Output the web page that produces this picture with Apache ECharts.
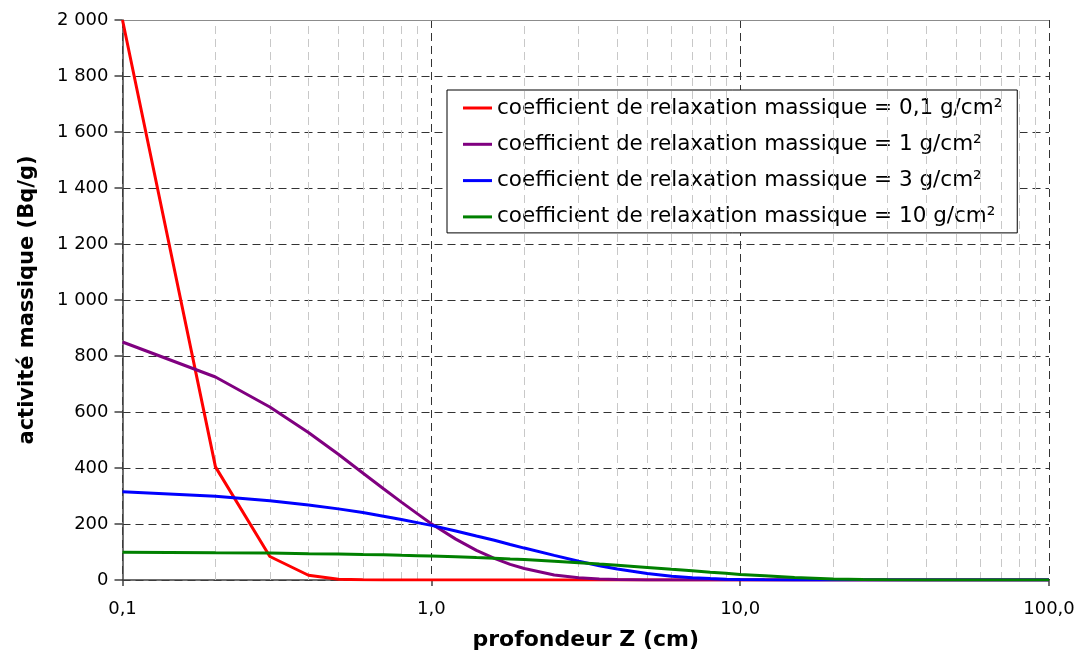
<!DOCTYPE html>
<html>
<head>
<meta charset="utf-8">
<script src="https://cdn.jsdelivr.net/npm/echarts@6/dist/echarts.min.js"></script>
<style>
  html, body { margin: 0; padding: 0; background: #fff; }
  #chart { width: 1080px; height: 657px; }
</style>
</head>
<body>
<div id="chart"></div>
<script>
// Depth points (cm) shared by all profiles
const depths = [0.1, 0.2, 0.3, 0.4, 0.5, 0.6, 0.7, 0.8, 0.9, 1.0,
  1.2, 1.4, 1.6, 1.8, 2.0, 2.5, 3, 3.5, 4, 5, 6, 7, 8, 9, 10,
  12, 15, 20, 25, 30, 40, 50, 70, 100];

// Mass activity (Bq/g) for each mass relaxation coefficient
const activity01 = [2000, 404, 84, 17, 3, 1, 0, 0, 0, 0,
  0, 0, 0, 0, 0, 0, 0, 0, 0, 0, 0, 0, 0, 0, 0,
  0, 0, 0, 0, 0, 0, 0, 0, 0];
const activity1 = [850, 725, 618, 527, 449, 382, 326, 278, 237, 201,
  146, 106, 77, 56, 41, 18, 8, 4, 2, 0.3, 0, 0, 0, 0, 0,
  0, 0, 0, 0, 0, 0, 0, 0, 0];
const activity3 = [315, 299, 283, 268, 254, 241, 228, 216, 205, 195,
  175, 157, 142, 127, 114, 88, 67, 51, 39, 23, 13, 8, 5, 3, 2,
  0.5, 0.1, 0, 0, 0, 0, 0, 0, 0];
const activity10 = [99, 97, 96, 94, 93, 91, 90, 88, 87, 86,
  83, 80, 78, 75, 73, 67, 62, 57, 53, 45, 38, 33, 28, 24, 20,
  15, 9, 4, 2, 1, 0.2, 0, 0, 0];

const seriesNames = [
  'coefficient de relaxation massique = 0,1 g/cm²',
  'coefficient de relaxation massique = 1 g/cm²',
  'coefficient de relaxation massique = 3 g/cm²',
  'coefficient de relaxation massique = 10 g/cm²'
];
const seriesColors = ['#ff0000', '#800080', '#0000ff', '#008000'];
const seriesValues = [activity01, activity1, activity3, activity10];

// Intermediate depths for the light minor grid
const minorDepths = [0.2, 0.3, 0.4, 0.5, 0.6, 0.7, 0.8, 0.9,
  2, 3, 4, 5, 6, 7, 8, 9, 20, 30, 40, 50, 60, 70, 80, 90];

const FONT = 'DejaVu Sans';

const chart = echarts.init(document.getElementById('chart'), null, { renderer: 'canvas' });

const curves = seriesValues.map((vals, i) => ({
  name: seriesNames[i],
  type: 'line',
  data: depths.map((d, j) => [d, vals[j]]),
  showSymbol: false,
  symbol: 'none',
  lineStyle: { color: seriesColors[i], width: 3 },
  itemStyle: { color: seriesColors[i] },
  z: 5,
  animation: false
}));

const gridHelper = {
  name: 'grid',
  type: 'line',
  data: [],
  z: 1,
  silent: true,
  animation: false,
  markLine: {
    silent: true,
    symbol: ['none', 'none'],
    label: { show: false },
    animation: false,
    data: minorDepths.map(v => ({
      xAxis: v,
      lineStyle: { color: '#c8c8c8', type: [8, 5], width: 1 }
    })).concat([{
      yAxis: 2000,
      lineStyle: { color: '#8c8c8c', type: 'solid', width: 1 }
    }])
  }
};

chart.setOption({
  backgroundColor: '#ffffff',
  animation: false,
  textStyle: { fontFamily: FONT },
  grid: { left: 122.5, right: 31, top: 20, bottom: 77 },
  legend: {
    data: seriesNames,
    orient: 'vertical',
    left: 447,
    top: 90,
    icon: 'rect',
    itemWidth: 29,
    itemHeight: 3,
    itemGap: 10.3,
    padding: [5, 15, 3, 16],
    backgroundColor: '#ffffff',
    borderColor: '#000000',
    borderWidth: 1,
    selectedMode: false,
    textStyle: { fontFamily: FONT, fontSize: 21.5, color: '#000', lineHeight: 26 }
  },
  xAxis: {
    type: 'log',
    logBase: 10,
    min: 0.1,
    max: 100,
    name: 'profondeur Z (cm)',
    nameLocation: 'middle',
    nameGap: 49,
    nameTextStyle: { fontFamily: FONT, fontSize: 22, fontWeight: 'bold', color: '#000' },
    axisLine: { show: true, onZero: false, lineStyle: { color: '#404040', width: 1.5 } },
    axisTick: { show: true, length: 6, lineStyle: { color: '#404040', width: 1.5 } },
    axisLabel: {
      fontFamily: FONT, fontSize: 18, color: '#000', margin: 20,
      formatter: v => Number(v).toFixed(1).replace('.', ',')
    },
    splitLine: { show: true, lineStyle: { color: '#333333', type: [8, 5], width: 1 } },
    minorTick: { show: false },
    minorSplitLine: { show: false }
  },
  yAxis: {
    type: 'value',
    min: 0,
    max: 2000,
    interval: 200,
    name: 'activité massique (Bq/g)',
    nameLocation: 'middle',
    nameGap: 84,
    nameRotate: 90,
    nameTextStyle: { fontFamily: FONT, fontSize: 21, fontWeight: 'bold', color: '#000' },
    axisLine: { show: true, lineStyle: { color: '#404040', width: 1.5 } },
    axisTick: { show: true, length: 8, lineStyle: { color: '#404040', width: 1.5 } },
    axisLabel: {
      fontFamily: FONT, fontSize: 18, color: '#000', margin: 14,
      formatter: v => String(v).replace(/\B(?=(\d{3})+(?!\d))/g, ' ')
    },
    splitLine: { show: true, lineStyle: { color: '#333333', type: [8, 5], width: 1 } }
  },
  series: [gridHelper].concat(curves)
});
</script>
</body>
</html>
